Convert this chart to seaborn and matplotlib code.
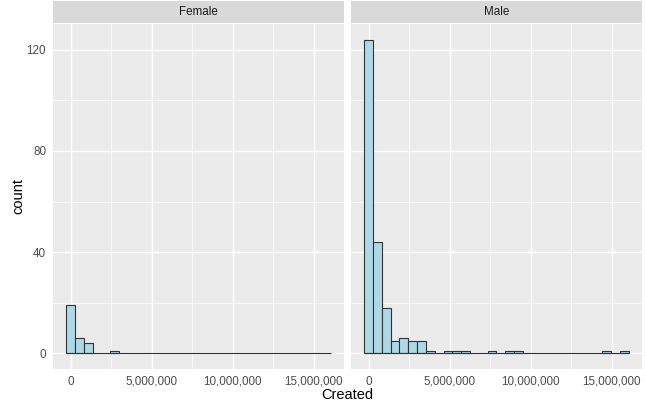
import numpy as np
import pandas as pd
import matplotlib
matplotlib.use("Agg")
import matplotlib.pyplot as plt
import seaborn as sns
from matplotlib.ticker import FuncFormatter, MultipleLocator

sns.set_style("white")
plt.rcParams['font.family'] = ['Liberation Sans', 'DejaVu Sans']

# ---- data (counts per histogram bin, 30 bins) ----
panels = ["Female", "Male"]
female_counts = [19, 6, 4, 0, 0, 1, 0, 0, 0, 0, 0, 0, 0, 0, 0,
                 0, 0, 0, 0, 0, 0, 0, 0, 0, 0, 0, 0, 0, 0, 0]
male_counts = [124, 44, 18, 5, 6, 5, 5, 1, 0, 1, 1, 1, 0, 0, 1,
               0, 1, 1, 0, 0, 0, 0, 0, 0, 0, 0, 0, 1, 0, 1]
bin_width = 544000
x_ticks = [0, 5000000, 10000000, 15000000]
y_ticks = [0, 40, 80, 120]

n_bins = len(male_counts)
centers = np.arange(n_bins) * bin_width
lo = -bin_width / 2
hi = (n_bins - 0.5) * bin_width
df = pd.DataFrame({
    "Gender": np.repeat(panels, n_bins),
    "Created": np.tile(centers, 2),
    "n": female_counts + male_counts,
})

W, H = 646, 404
fig = plt.figure(figsize=(W / 100, H / 100), dpi=100)

panel_bg = "#EBEBEB"
strip_bg = "#D9D9D9"
edge_col = "#333333"
pad = 0.05 * (hi - lo)
ymax = max(male_counts + female_counts)
ylo, yhi = -0.05 * ymax, ymax * 1.05

lefts = [53, 351]
pw = 291
top_panel, bot_panel = 24, 369
strip_top = 1

for i, g in enumerate(panels):
    ax = fig.add_axes([lefts[i] / W, 1 - bot_panel / H, pw / W, (bot_panel - top_panel) / H])
    ax.set_facecolor(panel_bg)
    sub = df[df["Gender"] == g]
    sns.histplot(data=sub, x="Created", weights="n", binwidth=bin_width,
                 binrange=(lo, hi), ax=ax,
                 color="#ADD8E6", edgecolor=edge_col, linewidth=0.8, alpha=1)
    for p in ax.patches:
        if p.get_height() == 0:
            p.set_linewidth(0)
    # baseline traced by the empty bins (as ggplot draws zero-height bars)
    ax.hlines(0, lo, hi, color=edge_col, linewidth=0.8, zorder=1.5)
    ax.set_xlim(lo - pad, hi + pad)
    ax.set_ylim(ylo, yhi)
    ax.set_xticks(x_ticks)
    ax.set_yticks(y_ticks)
    ax.xaxis.set_minor_locator(MultipleLocator(2500000))
    ax.yaxis.set_minor_locator(MultipleLocator(20))
    ax.grid(which="major", color="white", linewidth=1.05)
    ax.grid(which="minor", color="white", linewidth=0.5)
    ax.set_axisbelow(True)
    for s in ax.spines.values():
        s.set_visible(False)
    ax.xaxis.set_major_formatter(FuncFormatter(lambda v, p: f"{int(v):,}"))
    ax.tick_params(axis="both", which="major", length=3, width=0.8, color="#333333",
                   labelsize=8.4, labelcolor="#4D4D4D", pad=2)
    ax.tick_params(axis="both", which="minor", length=0)
    ax.set_xlabel("")
    ax.set_ylabel("")
    if i > 0:
        ax.tick_params(axis="y", which="major", length=0, labelleft=False)
    # strip
    sax = fig.add_axes([lefts[i] / W, 1 - (top_panel - 1) / H, pw / W, (top_panel - 1 - strip_top) / H])
    sax.set_facecolor(strip_bg)
    sax.set_xticks([])
    sax.set_yticks([])
    for s in sax.spines.values():
        s.set_visible(False)
    sax.text(0.5, 0.5, g, ha="center", va="center", fontsize=8.4, color="#1A1A1A",
             transform=sax.transAxes)

fig.text((lefts[0] + lefts[1] + pw) / 2 / W, 1 - 395 / H, "Created", ha="center", va="center",
         fontsize=10.5, color="black")
fig.text(18 / W, 1 - (top_panel + bot_panel) / 2 / H, "count", ha="center", va="center",
         rotation=90, fontsize=10.5, color="black")

fig.savefig("out.png", dpi=100, facecolor="white")
